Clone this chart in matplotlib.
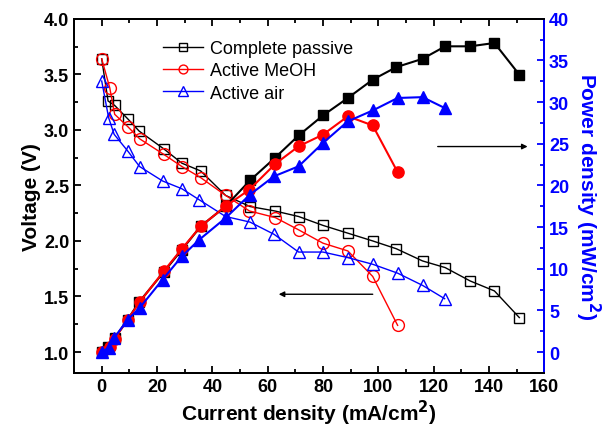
import matplotlib.pyplot as plt
from matplotlib.ticker import MultipleLocator

plt.rcParams['font.family'] = ['Liberation Sans', 'DejaVu Sans']

# current density (mA/cm2)
i_passive = [0, 2.3, 4.7, 9.4, 13.5, 22.4, 29, 35.8, 44.8, 53.6, 62.6, 71.2, 80, 89, 98, 106.5, 116, 124.2, 133.2, 142, 151]
i_meoh = [0, 2.9, 4.7, 9.4, 13.7, 22.4, 29, 35.8, 44.8, 53.4, 62.8, 71.2, 80, 89, 98, 107]
i_air = [0, 2.5, 4.5, 9.4, 13.7, 22, 29, 35.3, 44.8, 53.6, 62.3, 71.2, 80, 89, 98, 107, 116, 124]

# voltage (V)
v_passive = [3.64, 3.26, 3.22, 3.10, 2.99, 2.83, 2.70, 2.63, 2.41, 2.31, 2.27, 2.22, 2.14, 2.07, 2.00, 1.93, 1.82, 1.76, 1.64, 1.55, 1.31]
v_meoh = [3.64, 3.38, 3.14, 3.03, 2.92, 2.78, 2.67, 2.57, 2.41, 2.27, 2.21, 2.10, 1.98, 1.91, 1.68, 1.24]
v_air = [3.44, 3.11, 2.96, 2.81, 2.67, 2.54, 2.47, 2.37, 2.22, 2.17, 2.06, 1.90, 1.90, 1.85, 1.79, 1.71, 1.60, 1.48]

# power density (mW/cm2)
p_passive = [0, 0.6, 1.7, 3.9, 6.0, 9.6, 12.3, 15.1, 17.5, 20.6, 23.3, 26.0, 28.4, 30.5, 32.7, 34.2, 35.2, 36.7, 36.7, 37.1, 33.3]
p_meoh = [0, 0.6, 1.6, 3.9, 6.0, 9.7, 12.4, 15.1, 17.5, 19.5, 22.6, 24.7, 26.1, 28.3, 27.2, 21.6]
p_air = [0, 0.5, 1.7, 3.9, 5.3, 8.7, 11.5, 13.5, 16.1, 18.9, 21.1, 22.3, 25.1, 27.7, 29.0, 30.5, 30.6, 29.3]

labels = ['Complete passive', 'Active MeOH', 'Active air']
colors = ['black', 'red', 'blue']
markers = ['s', 'o', '^']
sizes = [7.5, 8.5, 9]

fig = plt.figure(figsize=(6.02, 4.31), dpi=100)
ax = fig.add_axes([0.123, 0.132, 0.781, 0.822])
ax2 = ax.twinx()

currents = [i_passive, i_meoh, i_air]
volts = [v_passive, v_meoh, v_air]
powers = [p_passive, p_meoh, p_air]

# voltage curves: open markers
for cur, v, lab, c, m, ms in zip(currents, volts, labels, colors, markers, sizes):
    ax.plot(cur, v, color=c, lw=1.0, marker=m, ms=ms, mfc='none', mec=c, mew=1.0, label=lab)

# power curves: filled markers
for cur, p, c, m, ms in zip(currents, powers, colors, markers, sizes):
    ax2.plot(cur, p, color=c, lw=1.5, marker=m, ms=ms * 0.95, mfc=c, mec=c)

ax.set_xlim(-10, 160)
ax.set_ylim(0.81, 4.0)
ax2.set_ylim(-2.52, 40)

ax.xaxis.set_major_locator(MultipleLocator(20))
ax.xaxis.set_minor_locator(MultipleLocator(10))
ax.yaxis.set_major_locator(MultipleLocator(0.5))
ax.yaxis.set_minor_locator(MultipleLocator(0.25))
ax2.yaxis.set_major_locator(MultipleLocator(5))
ax2.yaxis.set_minor_locator(MultipleLocator(2.5))

ax.yaxis.set_major_formatter(plt.FormatStrFormatter('%.1f'))

ax.tick_params(which='both', direction='in', top=True, right=False, width=1.3)
ax.tick_params(which='major', length=5, labelsize=13)
ax.tick_params(which='minor', length=3)
ax2.tick_params(which='both', direction='in', colors='blue', width=1.3)
ax2.tick_params(which='major', length=5, labelsize=13)
ax2.tick_params(which='minor', length=3)

for lbl in ax.get_xticklabels() + ax.get_yticklabels() + ax2.get_yticklabels():
    lbl.set_fontweight('bold')

for s in ax.spines.values():
    s.set_linewidth(1.4)
for s in ax2.spines.values():
    s.set_linewidth(1.4)
ax2.spines['right'].set_color('blue')

ax.set_xlabel('Current density (mA/cm$^\\mathbf{2}$)', fontsize=15, fontweight='bold', labelpad=2)
ax.set_ylabel('Voltage (V)', fontsize=15, fontweight='bold', labelpad=2)
ax2.set_ylabel('Power density (mW/cm$^\\mathbf{2}$)', fontsize=15, fontweight='bold',
               color='blue', rotation=270, labelpad=24)

# arrows pointing to the matching axis
ax.annotate('', xy=(155, 2.85), xytext=(120.5, 2.85),
            arrowprops=dict(arrowstyle='-|>', color='black', lw=1.0, mutation_scale=8))
ax.annotate('', xy=(63, 1.52), xytext=(99, 1.52),
            arrowprops=dict(arrowstyle='-|>', color='black', lw=1.0, mutation_scale=8))

ax.legend(loc='upper left', bbox_to_anchor=(0.155, 0.985), frameon=False, fontsize=13,
          markerscale=0.75, handlelength=2.2, handletextpad=0.4, labelspacing=0.28)

fig.savefig('out.png', dpi=100)
